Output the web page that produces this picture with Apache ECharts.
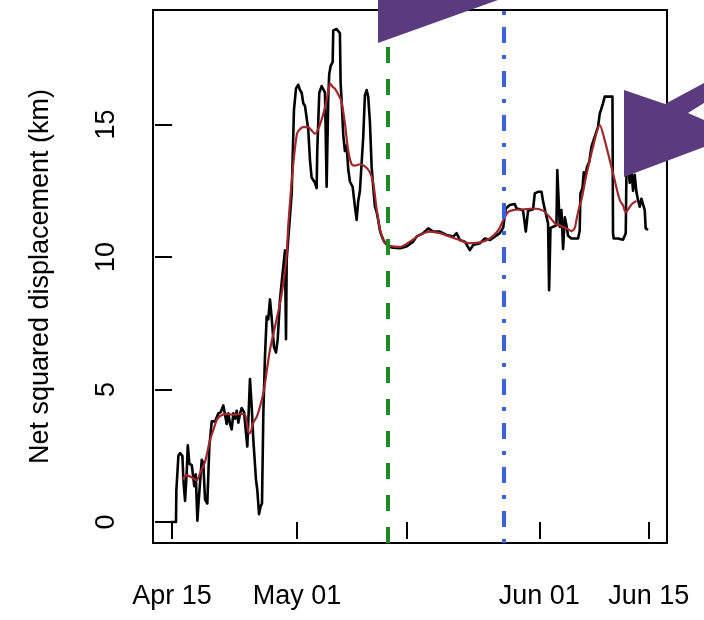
<!DOCTYPE html>
<html>
<head>
<meta charset="utf-8">
<script src="https://cdn.jsdelivr.net/npm/echarts@6/dist/echarts.min.js"></script>
<style>
html,body{margin:0;padding:0;background:#fff;}
#chart{width:704px;height:620px;}
</style>
</head>
<body>
<div id="chart"></div>
<script>
// x values are days since Apr 15
const dayTicks = [0, 16, 30, 47, 61];
const dayTickLabels = ['Apr 15', 'May 01', '', 'Jun 01', 'Jun 15'];
const nsdTicks = [0, 5, 10, 15];

// raw net squared displacement (black)
const nsdDays = [-0.17,0.5,0.55,0.81,1.02,1.32,1.45,1.66,1.88,2.01,2.21,2.52,2.72,2.85,3.03,3.24,3.36,3.58,3.80,4.00,4.22,4.51,4.77,5.08,5.50,5.92,6.23,6.56,6.78,6.99,7.20,7.42,7.63,7.84,8.06,8.27,8.48,8.70,8.91,9.21,9.42,9.63,9.97,10.19,10.40,10.74,10.91,11.13,11.34,11.51,11.68,11.89,12.11,12.31,12.53,12.75,13.04,13.30,13.52,13.81,14.10,14.45,14.58,14.67,15.31,15.60,15.86,16.15,16.37,16.59,16.79,17.01,17.43,17.65,17.86,18.07,18.29,18.50,18.58,18.84,19.14,19.35,19.57,19.78,19.99,20.11,20.29,20.55,20.63,21.06,21.48,21.57,21.70,21.91,22.12,22.34,22.55,22.76,23.11,23.40,23.62,23.82,24.04,24.26,24.46,24.68,24.90,25.10,25.32,25.54,25.74,25.96,26.18,26.38,26.60,26.82,27.02,27.24,27.66,27.88,28.30,29.16,30.01,30.86,31.29,32.14,32.78,33.41,34.27,35.13,35.97,36.41,36.83,37.47,38.11,38.53,39.39,40.03,40.66,41.30,41.94,42.37,42.71,43.22,43.86,44.08,44.50,44.92,45.14,45.27,45.44,45.56,46.20,46.42,46.84,47.28,47.48,47.70,48.12,48.25,48.43,48.76,49.19,49.30,49.53,49.62,49.83,50.04,50.26,50.47,50.68,51.11,51.53,51.96,52.17,52.26,52.52,52.69,52.81,53.10,53.40,53.67,54.09,54.51,54.73,54.95,55.15,55.37,56.01,56.36,56.43,56.52,57.07,57.71,57.93,58.06,58.15,58.35,58.57,58.79,58.99,59.21,59.42,59.63,59.85,60.06,60.27,60.49,60.61,60.91];
const nsdValues = [0.0,0.0,1.2,2.5,2.6,2.5,1.6,0.8,1.9,2.9,2.2,2.15,2.1,1.35,1.8,0.05,0.6,1.5,2.35,2.2,0.85,0.7,2.85,3.8,3.8,4.1,4.15,4.4,4.05,3.7,4.1,3.7,3.5,4.1,3.9,4.2,3.75,4.1,4.3,4.15,4.2,2.85,5.4,4.35,3.1,1.6,1.2,0.3,0.6,0.7,4.1,6.25,7.75,7.65,8.4,7.7,6.6,6.4,6.9,8.4,9.25,10.25,6.9,9.9,12.4,15.55,16.35,16.5,16.3,16.2,15.8,15.7,14.8,13.65,13.0,13.0,12.8,12.6,14.0,16.2,16.45,16.45,16.2,12.65,16.0,16.9,17.2,17.35,18.55,18.6,18.45,16.55,15.9,14.6,14.0,14.2,13.3,12.85,12.65,11.9,11.4,12.1,12.5,12.45,14.5,16.1,16.3,16.05,15.1,13.4,12.65,11.9,11.7,11.4,11.0,10.8,10.65,10.55,10.4,10.38,10.35,10.33,10.4,10.58,10.77,10.9,11.08,10.96,10.96,10.83,10.77,10.9,10.64,10.58,10.26,10.45,10.52,10.7,10.64,10.77,10.9,11.1,11.83,11.96,12.0,11.83,11.8,11.75,11.7,10.96,10.96,11.75,11.8,12.4,12.46,12.46,12.1,11.8,11.27,8.75,11.1,11.14,11.2,13.28,13.28,11.14,11.77,10.3,11.5,11.2,10.8,10.7,10.7,10.7,11.0,12.4,12.6,13.2,12.9,13.4,13.6,14.16,14.54,14.9,15.4,15.35,15.8,16.05,16.05,16.05,10.9,10.7,10.7,10.65,10.7,10.9,13.2,13.6,12.8,13.3,12.5,13.1,12.46,12.15,11.9,12.2,12.15,11.77,11.08,11.02];

// smoothed net squared displacement (red)
const smoothDays = [1.32,1.88,2.30,2.72,3.16,3.58,4.22,4.86,5.28,5.72,6.14,6.99,7.84,8.70,9.34,9.76,9.97,10.40,10.83,11.25,11.68,11.89,12.53,13.17,13.81,14.23,14.67,14.87,15.51,15.95,16.15,16.79,17.43,17.65,18.29,18.93,19.57,20.11,20.20,20.63,20.84,21.48,21.70,22.12,22.55,22.98,23.40,24.04,24.68,25.32,25.74,26.18,26.60,27.02,27.24,27.88,29.16,30.43,31.71,32.99,34.27,35.55,36.83,38.11,39.39,40.66,41.73,42.37,43.00,43.65,44.92,46.20,47.48,48.34,49.19,49.62,50.47,51.11,51.53,51.75,52.17,52.39,53.03,53.88,54.73,55.37,56.43,57.29,57.71,58.06,58.79,59.42];
const smoothValues = [1.6,1.77,1.72,1.65,1.58,1.84,2.28,3.1,3.47,3.85,4.0,4.08,4.05,4.08,4.04,3.4,3.35,3.75,3.97,4.35,4.86,5.23,6.5,7.37,8.25,9.0,10.1,11.2,13.5,14.6,14.75,14.9,14.9,14.85,14.65,15.0,15.65,16.4,16.55,16.4,16.35,16.02,15.85,15.05,14.0,13.5,13.45,13.5,13.42,13.2,12.8,11.8,11.05,10.64,10.55,10.42,10.38,10.58,10.83,10.96,10.9,10.77,10.64,10.52,10.55,10.7,11.0,11.38,11.7,11.77,11.8,11.83,11.75,11.5,11.22,11.2,11.08,10.98,11.1,11.4,11.95,12.15,13.1,14.16,14.98,14.4,13.16,12.15,11.95,11.7,11.98,12.12];

// phase boundaries (days since Apr 15)
const breakGreenDay = 27.62;
const breakBlueDay = 42.46;

const FONT = 'Liberation Sans, Arial, Helvetica, sans-serif';
const labeledDays = dayTicks.filter((d, i) => dayTickLabels[i] !== '');

const chart = echarts.init(document.getElementById('chart'), null, {renderer: 'canvas'});
chart.setOption({
  animation: false,
  backgroundColor: '#ffffff',
  grid: {left: 153, right: 37, top: 10, bottom: 77, show: true, borderColor: '#000', borderWidth: 2, backgroundColor: 'transparent'},
  xAxis: {
    type: 'value', min: -2.44, max: 63.34,
    axisLine: {show: false}, splitLine: {show: false},
    axisTick: {show: true, customValues: dayTicks, length: 17, lineStyle: {color: '#000', width: 2}},
    axisLabel: {
      customValues: labeledDays,
      formatter: v => dayTickLabels[dayTicks.indexOf(v)],
      fontSize: 27, color: '#000', fontFamily: FONT, margin: 40
    }
  },
  yAxis: {
    type: 'value', min: -0.79, max: 19.32,
    axisLine: {show: false}, splitLine: {show: false},
    axisTick: {show: true, customValues: nsdTicks, length: 17, lineStyle: {color: '#000', width: 2}},
    axisLabel: {customValues: nsdTicks, rotate: 90, fontSize: 27, color: '#000', fontFamily: FONT, margin: 33},
    name: 'Net squared displacement (km)', nameLocation: 'middle', nameRotate: 90, nameGap: 99,
    nameTextStyle: {fontSize: 27, color: '#000', fontFamily: FONT}
  },
  series: [
    {
      type: 'line', name: 'raw', symbol: 'none', z: 2,
      data: nsdDays.map((d, i) => [d, nsdValues[i]]),
      lineStyle: {color: '#000', width: 2.6, join: 'round'}
    },
    {
      type: 'line', name: 'smooth', symbol: 'none', z: 3, smooth: 0.3,
      data: smoothDays.map((d, i) => [d, smoothValues[i]]),
      lineStyle: {color: '#a0282c', width: 2.2, join: 'round'}
    },
    {
      type: 'line', name: 'breaks', symbol: 'none', data: [], z: 4,
      markLine: {
        silent: true, symbol: ['none', 'none'], animation: false,
        label: {show: false},
        data: [
          {xAxis: breakGreenDay, lineStyle: {color: '#1e8a22', width: 4, type: [16, 16]}},
          {xAxis: breakBlueDay, lineStyle: {color: '#3a63d8', width: 4, type: [4, 12, 16, 12]}}
        ]
      }
    }
  ],
  graphic: [
    {type: 'polygon', z: 100, shape: {points: [[378, 0], [378, 43], [498, 0]]}, style: {fill: '#5b3a7d'}},
    {type: 'polygon', z: 100, shape: {points: [[624, 90], [665, 104], [704, 83], [704, 103], [688, 113], [704, 120], [704, 147], [624, 177]]}, style: {fill: '#5b3a7d'}}
  ]
});
</script>
</body>
</html>
